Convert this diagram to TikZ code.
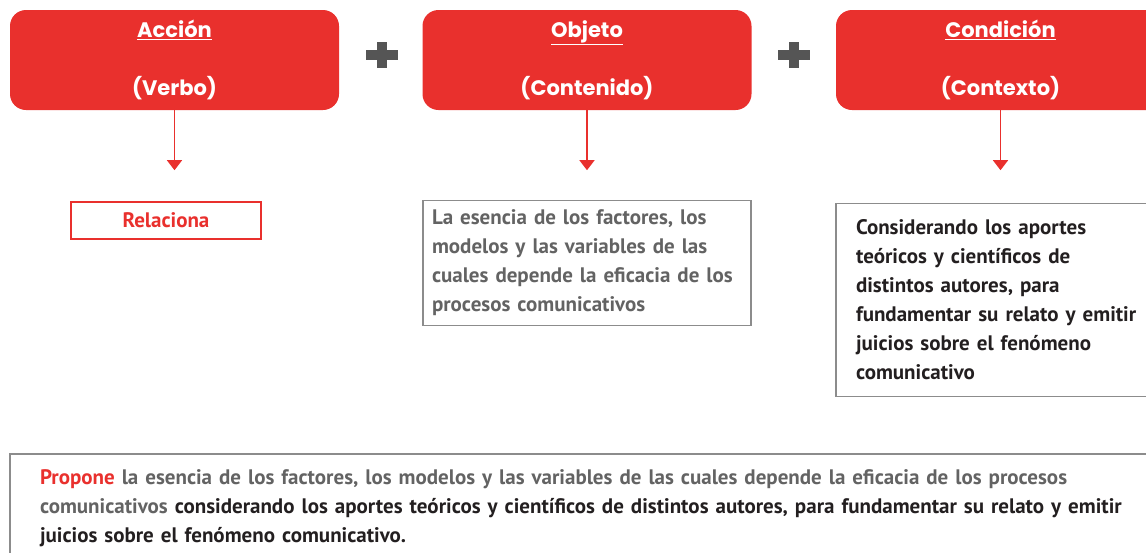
\documentclass[tikz,border=0pt]{standalone}
\usepackage{fontspec}
\setmainfont{PT Sans}
\newfontfamily\headfont{Poppins}
\usetikzlibrary{arrows.meta}
\definecolor{boxred}{RGB}{233,48,45}
\definecolor{plusgray}{RGB}{85,85,85}
\definecolor{txtgray}{RGB}{99,99,99}
\definecolor{txtdark}{RGB}{35,31,32}
\definecolor{linegray}{RGB}{140,140,140}

\begin{document}
\begin{tikzpicture}
  [x=1pt,y=-1pt,
   headbox/.style={rectangle,rounded corners=16pt,fill=boxred,text=white,
     minimum width=329pt,minimum height=100pt,align=center,
     font=\headfont\bfseries\fontsize{21}{29}\selectfont},
   textbox/.style={rectangle,draw=linegray,line width=1.5pt,align=left,
     font=\bfseries\fontsize{21}{29}\selectfont},
   plussign/.style={plusgray,line width=10pt},
   downarrow/.style={boxred,line width=1.5pt,-{Triangle[width=15pt,length=10pt]}}]
  \useasboundingbox (0,0) rectangle (1146,552);

  \node[headbox] (acc) at (174.5,60)  {\underline{Acción}\\[29pt](Verbo)};
  \node[headbox] (obj) at (587,60)    {\underline{Objeto}\\[29pt](Contenido)};
  \node[headbox] (con) at (1000.5,60) {\underline{Condición}\\[29pt](Contexto)};

  \draw[plussign] (366,55) -- (398,55) (382,42) -- (382,68);
  \draw[plussign] (778,55) -- (810,55) (794,42) -- (794,68);

  \node[textbox,draw=boxred,text=boxred,minimum width=190pt,minimum height=37pt]
    (rel) at (166,220.5) {Relaciona};
  \node[textbox,text=txtgray,minimum width=328pt,minimum height=125pt,inner xsep=9pt,
    text width=310pt] (ese) at (587,263)
    {La esencia de los factores, los\\modelos y las variables de las\\cuales depende la eficacia de los\\procesos comunicativos};
  \node[textbox,text=txtdark,minimum width=329pt,minimum height=193pt,inner xsep=20pt,
    text width=289pt] (cons) at (1000.5,300)
    {Considerando los aportes\\teóricos y científicos de\\distintos autores, para\\fundamentar su relato y emitir\\juicios sobre el fenómeno\\comunicativo};
  \node[textbox,text=txtdark,minimum width=1150pt,minimum height=108pt,inner xsep=30pt,
    text width=1090pt] (prop) at (585,508)
    {{\color{boxred}Propone} {\color{txtgray}la esencia de los factores, los modelos y las variables de las cuales depende la eficacia de los procesos}\\{\color{txtgray}comunicativos} considerando los aportes teóricos y científicos de distintos autores, para fundamentar su relato y emitir\\juicios sobre el fenómeno comunicativo.};

  \foreach \from in {acc,obj,con}
    \draw[downarrow] (\from.south) -- ++(0,60);

\end{tikzpicture}
\end{document}
